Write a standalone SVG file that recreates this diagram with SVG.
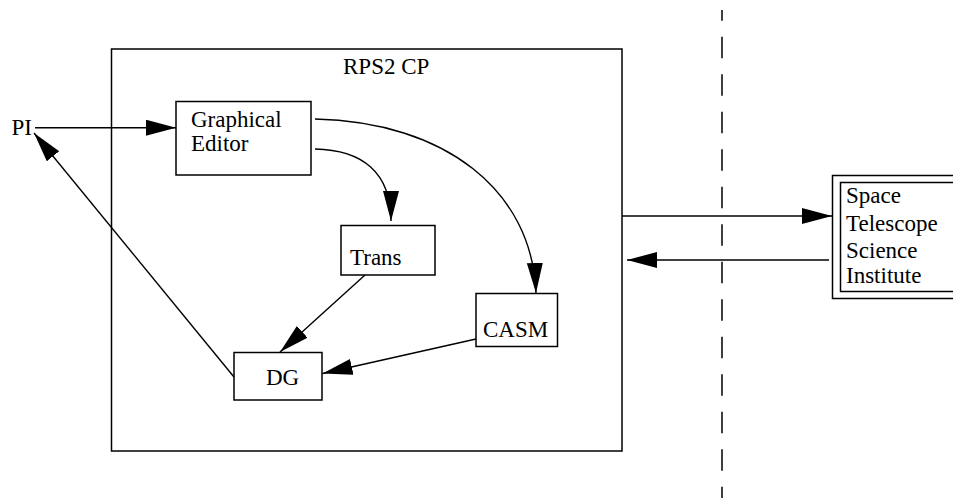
<svg xmlns="http://www.w3.org/2000/svg" width="953" height="498" viewBox="0 0 953 498">
  <style>
    .box { fill: #ffffff; stroke: #000000; stroke-width: 1.5; }
    .frame { fill: none; stroke: #000000; stroke-width: 1.5; }
    .lbl { font-size: 23px; fill: #000000; }
    .edge { fill: none; stroke: #000000; stroke-width: 1.4; marker-end: url(#head); }
    .divider { fill: none; stroke: #000000; stroke-width: 1.5; stroke-dasharray: 21.5 16; stroke-dashoffset: 10.8; }
  </style>
  <defs>
    <marker id="head" markerUnits="userSpaceOnUse" markerWidth="32" markerHeight="20" refX="30" refY="8" orient="auto" viewBox="0 0 32 20">
      <path d="M0,0 L30,8 L0,16 z" fill="#000000"/>
    </marker>
  </defs>

  <rect width="953" height="498" fill="#ffffff"/>

  <!-- dashed boundary -->
  <path class="divider" d="M722,10 L722,498"/>

  <g font-family="Liberation Serif, Times New Roman, DejaVu Serif, serif">
    <!-- container -->
    <g id="rps2cp">
      <rect class="frame" x="111.5" y="49" width="510.5" height="402"/>
      <text class="lbl" x="343" y="74">RPS2 CP</text>
    </g>

    <g id="pi">
      <text class="lbl" x="11.5" y="135">PI</text>
    </g>

    <g id="graphical-editor">
      <rect class="box" x="176" y="101.5" width="135" height="73.5"/>
      <text class="lbl" x="191" y="127">Graphical</text>
      <text class="lbl" x="191" y="151">Editor</text>
    </g>

    <g id="trans">
      <rect class="box" x="341" y="225.5" width="94" height="49.5"/>
      <text class="lbl" x="350" y="265">Trans</text>
    </g>

    <g id="casm">
      <rect class="box" x="476" y="293.5" width="81.5" height="53"/>
      <text class="lbl" x="483" y="336.5">CASM</text>
    </g>

    <g id="dg">
      <rect class="box" x="234" y="352.5" width="88" height="47.5"/>
      <text class="lbl" x="266" y="385">DG</text>
    </g>

    <g id="stsci">
      <rect class="box" x="832.5" y="175.5" width="140" height="123"/>
      <rect class="frame" x="840.5" y="182.5" width="130" height="109"/>
      <text class="lbl" x="846" y="202.5">Space</text>
      <text class="lbl" x="846" y="231">Telescope</text>
      <text class="lbl" x="846" y="258">Science</text>
      <text class="lbl" x="846" y="283">Institute</text>
    </g>
  </g>

  <g id="connectors">
    <path class="edge" d="M35,127.7 L176,127.7"/>
    <path class="edge" d="M315,119 C445,122 532,190 536,293"/>
    <path class="edge" d="M315,149 C362,150 391,172 391,221"/>
    <path class="edge" d="M365,275 L280,352"/>
    <path class="edge" d="M476,339 L322.5,373.5"/>
    <path class="edge" d="M234,377 L34,133"/>
    <path class="edge" d="M622,216 L832,216"/>
    <path class="edge" d="M829,260 L627,260"/>
  </g>
</svg>
